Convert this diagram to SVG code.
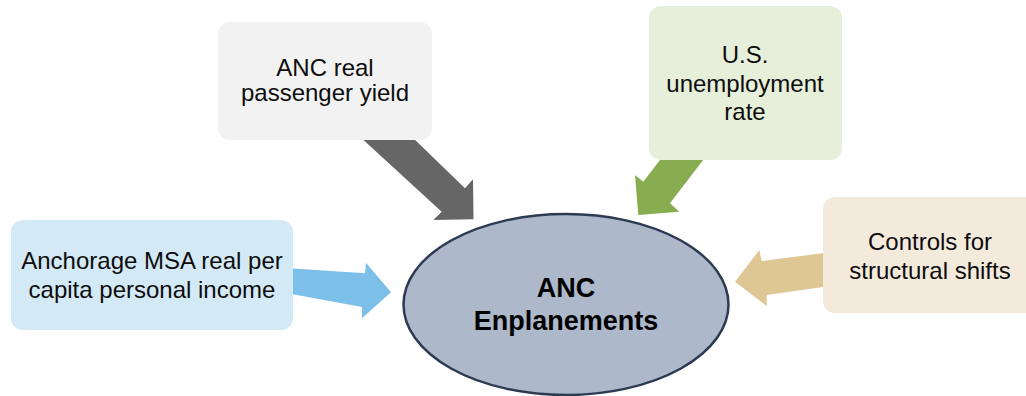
<svg xmlns="http://www.w3.org/2000/svg" width="1026" height="396" viewBox="0 0 1026 396">
<style>
.t{font-family:"Liberation Sans",Arial,sans-serif;font-size:24px;fill:#0d0d0d;text-anchor:middle}
.b{font-family:"Liberation Sans",Arial,sans-serif;font-size:27px;font-weight:bold;fill:#000;text-anchor:middle}
</style>
<rect width="1026" height="396" fill="#ffffff"/>
<g id="connectors">
<polygon fill="#666666" points="358,135 441.7,211.7 433.3,220 473.5,219.3 473,179.3 465,188.3 410,135"/>
<polygon fill="#88ad50" points="663.8,155 643.3,181.7 635,175 638.3,215 679.3,211.7 670,203.3 707,155"/>
<polygon fill="#7cc0ea" points="286,268 365,273.3 366,262.7 391,292.3 362,318.3 362,307 286,293"/>
<polygon fill="#dfc695" points="830,252.3 761.7,261 759.3,250 735,281.7 766.7,306 766.7,295 830,286"/>
</g>
<g id="node-yield">
<rect x="218" y="22" width="214" height="118" rx="12" fill="#f2f2f2"/>
<text class="t" x="325" y="75.5">ANC real</text>
<text class="t" x="325" y="101">passenger yield</text>
</g>
<g id="node-unemployment">
<rect x="649" y="6" width="193" height="154" rx="12" fill="#e6efda"/>
<text class="t" x="745" y="62.5">U.S.</text>
<text class="t" x="745" y="91.5">unemployment</text>
<text class="t" x="745" y="120">rate</text>
</g>
<g id="node-income">
<rect x="11" y="220" width="282" height="110" rx="12" fill="#d4e9f6"/>
<text class="t" x="152" y="269.3">Anchorage MSA real per</text>
<text class="t" x="152" y="298.3">capita personal income</text>
</g>
<g id="node-controls">
<rect x="823" y="197" width="220" height="116" rx="12" fill="#f4eadc"/>
<text class="t" x="930" y="250">Controls for</text>
<text class="t" x="930" y="278.5">structural shifts</text>
</g>
<g id="node-enplanements">
<ellipse cx="566" cy="304.5" rx="162.5" ry="90.5" fill="#adb9ca" stroke="#2c3a52" stroke-width="2.5"/>
<text class="b" x="566" y="297.3">ANC</text>
<text class="b" x="566" y="330">Enplanements</text>
</g>
</svg>
